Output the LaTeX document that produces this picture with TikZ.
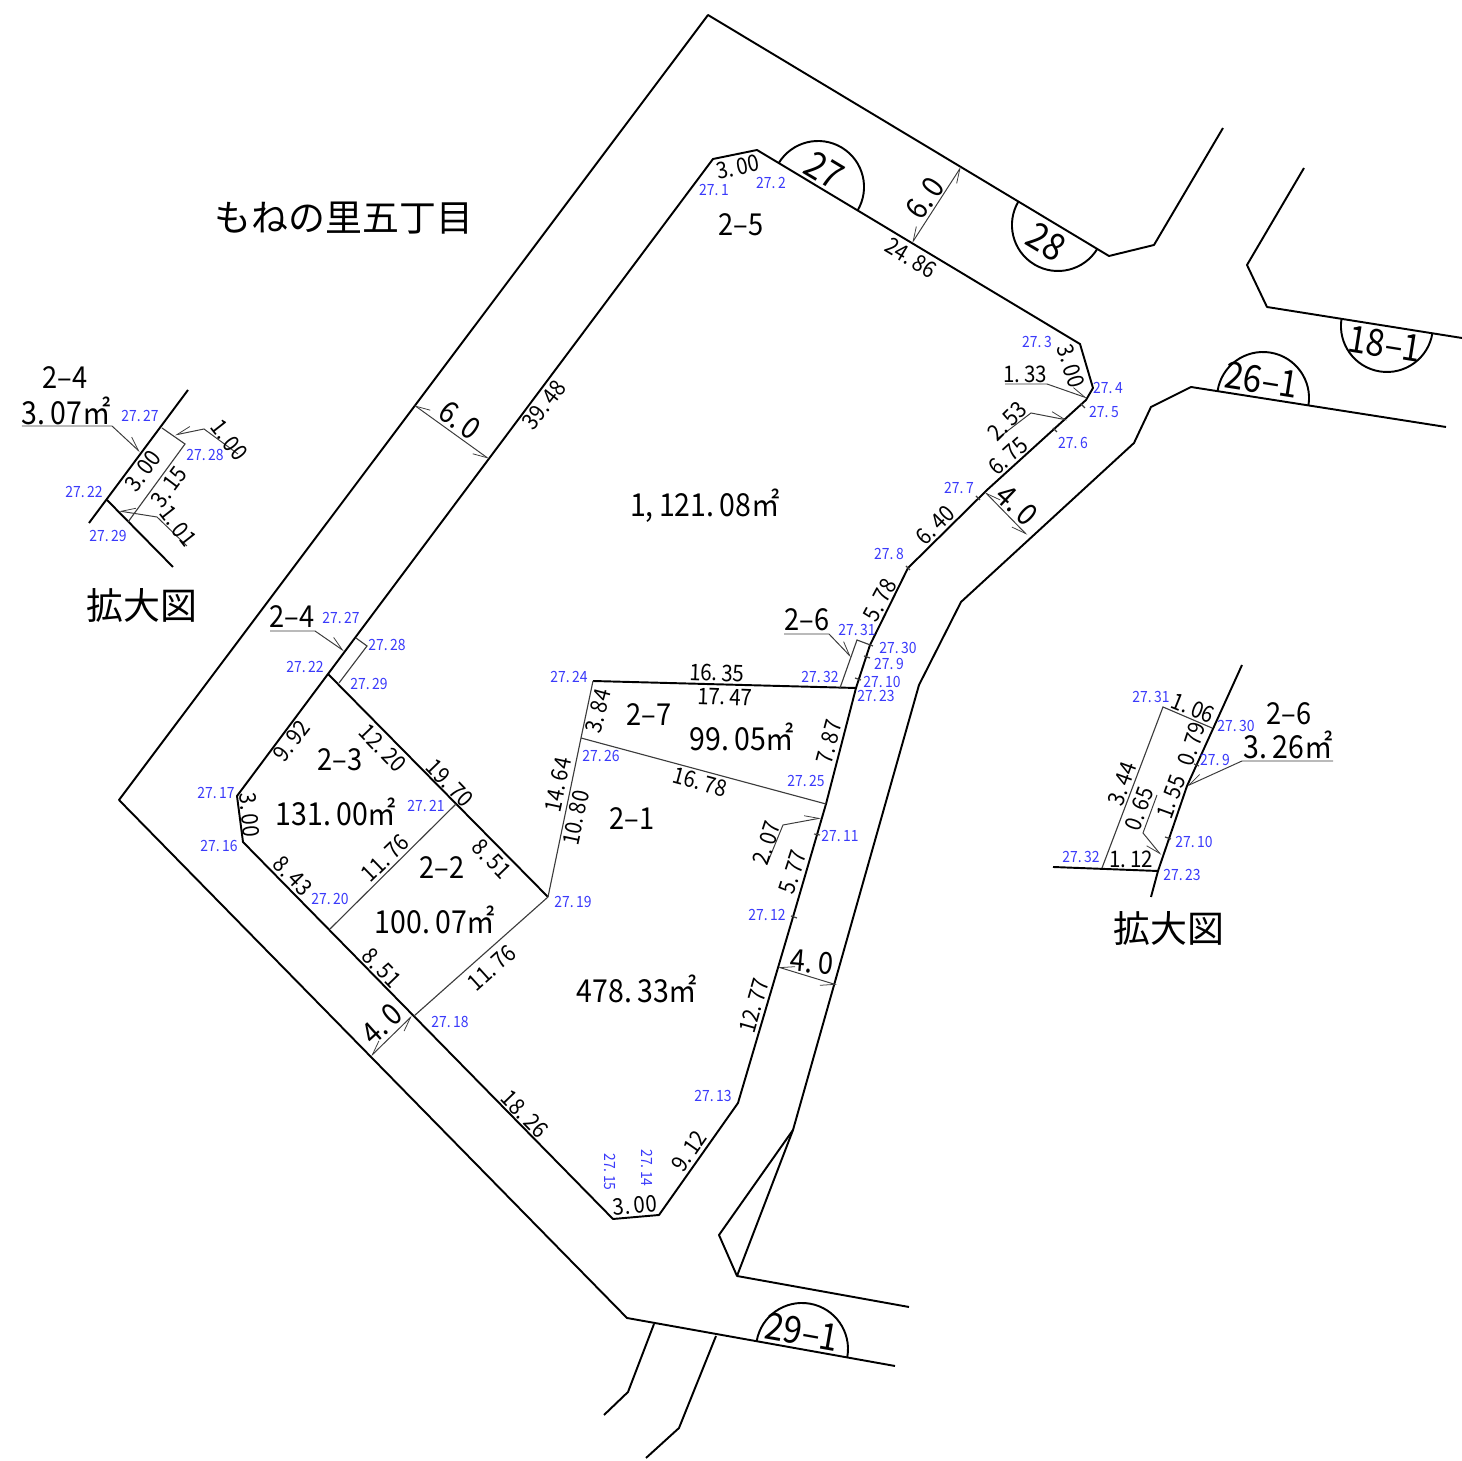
\documentclass[tikz,border=0pt]{standalone}
\usepackage{fontspec}
\setmainfont{Noto Sans CJK JP}[FakeStretch=0.9]
\newfontfamily\jpfont{Noto Sans CJK JP}
\usetikzlibrary{arrows.meta}
\definecolor{pointblue}{RGB}{58,58,250}
\definecolor{thingray}{RGB}{60,60,60}
\begin{document}
\begin{tikzpicture}[x=0.01cm,y=-0.01cm]
    \tikzstyle{every node}+=[inner sep=0pt]
    \tikzstyle{boundary}=[black,line width=0.55pt,line join=round]
    \tikzstyle{lotline}=[thingray,line width=0.32pt]
    \tikzstyle{leader}=[thingray,line width=0.28pt,-{Straight Barb[harpoon,length=4pt,width=3pt,line width=0.22pt]}]
    \tikzstyle{leaderswap}=[thingray,line width=0.28pt,-{Straight Barb[harpoon,swap,length=4pt,width=3pt,line width=0.22pt]}]
    \tikzstyle{offset}=[thingray,line width=0.28pt,{Straight Barb[harpoon,swap,length=4pt,width=3pt,line width=0.22pt]}-{Straight Barb[harpoon,swap,length=4pt,width=3pt,line width=0.22pt]}]
    \tikzstyle{pointlabel}=[text=pointblue,font=\fontsize{4.4}{5}\selectfont]
    \tikzstyle{dimlabel}=[font=\fontsize{6.5}{8}\selectfont]
    \tikzstyle{widthlabel}=[font=\fontsize{8.6}{10}\selectfont]
    \tikzstyle{lotlabel}=[font=\fontsize{8.6}{10}\selectfont]
    \tikzstyle{arealabel}=[font=\fontsize{9}{11}\selectfont]
    \tikzstyle{blocklabel}=[font=\fontsize{10.6}{13}\selectfont]
    \tikzstyle{titlelabel}=[font=\jpfont\fontsize{10.5}{12}\selectfont]
    \useasboundingbox (0,0) rectangle (1462,1461);
    % roads
    \draw [boundary] (1223,128) -- (1154,245) -- (1109,256) -- (708,15) -- (119,800) -- (627,1318) -- (895,1366);
    \draw [boundary] (654,1324) -- (628,1392) -- (604,1415);
    \draw [boundary] (716,1336) -- (679,1428) -- (646,1458);
    \draw [boundary] (909,1307) -- (737,1276) -- (719,1235) -- (793,1130);
    \draw [boundary] (737,1276) -- (793,1130) -- (919,685) -- (961,602) -- (1134,443) -- (1151,407) -- (1191,387) -- (1446,427);
    \draw [boundary] (1304,168) -- (1247,265) -- (1267,307) -- (1462,338);
    % corner arcs
    \draw [boundary] (778.6,163.3) arc (211:391:46);
    \draw [boundary] (1097.4,248.7) arc (31:211:46);
    \draw [boundary] (1432.4,333.2) arc (9:189:46);
    \draw [boundary] (1217.6,390.8) arc (189:369:46);
    \draw [boundary] (756.7,1341) arc (190:370:46);
    % main lot
    \draw [boundary] (713,159) -- (757,150) -- (1080,344) -- (1093,388) -- (1086,400) -- (987,490) -- (908,568) -- (870,645) -- (856,688) -- (826,804) -- (793,917) -- (738,1103) -- (659,1215) -- (613,1219) -- (243,842) -- (237,796) -- (328,674) -- cycle;
    % lot lines
    \draw [boundary] (593,681) -- (856,688);
    \draw [boundary] (328,674) -- (548,897);
    \draw [lotline] (548,897) -- (581,738) -- (593,681);
    \draw [lotline] (581,738) -- (826,804);
    \draw [lotline] (330,929) -- (456,804);
    \draw [lotline] (414,1016) -- (548,897);
    \draw [lotline] (356,638) -- (367,646) -- (339,683);
    \draw [lotline] (840,688) -- (857,640) -- (873,646);
    % boundary ticks
    \draw [lotline] (1053,428) -- (1057,432);
    \draw [lotline] (1081,404) -- (1085,408);
    \draw [lotline] (976,496) -- (980,500);
    \draw [lotline] (906,566) -- (910,570);
    \draw [lotline] (864,656) -- (870,658);
    \draw [lotline] (855,678) -- (861,680);
    \draw [lotline] (814,834) -- (820,835);
    \draw [lotline] (791,916) -- (797,918);
    % road widths
    \draw [offset] (912,243) -- (961,167);
    \draw [offset] (414,405) -- (489,459);
    \draw [offset] (985,492) -- (1027,535);
    \draw [offset] (778,967) -- (837,985);
    \draw [offset] (371,1056) -- (412,1016);
    % leaders
    \draw [leader] (1005,384) -- (1047,384) -- (1087,398);
    \draw [leader] (997,439) -- (1031,413) -- (1067,420);
    \draw [leader] (784,634) -- (829,634) -- (851,657);
    \draw [leader] (270,631) -- (315,631) -- (344,651);
    \draw [leader] (767,864) -- (783,825) -- (821,818);
    % left enlarged view
    \draw [boundary] (188,390) -- (89,523);
    \draw [boundary] (107,500) -- (173,567);
    \draw [lotline] (162,428) -- (185,444) -- (128,522);
    \draw [leader] (22,426) -- (112,426) -- (140,452);
    \draw [leaderswap] (238,454) -- (204,429) -- (175,435);
    \draw [leaderswap] (187,546) -- (157,517) -- (119,511);
    % right enlarged view
    \draw [boundary] (1242,665) -- (1187,786) -- (1158,871) -- (1151,897);
    \draw [boundary] (1053,867) -- (1158,871);
    \draw [lotline] (1102,868) -- (1163,707) -- (1212,728);
    \draw [lotline] (1194,764) -- (1199,766);
    \draw [lotline] (1165,837) -- (1171,839);
    \draw [leaderswap] (1333,761) -- (1242,761) -- (1187,786);
    \draw [leaderswap] (1157,795) -- (1143,833) -- (1161,855);
    % titles
    \node [titlelabel] (town) at (344,218) {もねの里五丁目};
    \node [titlelabel] (viewleft) at (142,605) {拡大図};
    \node [titlelabel] (viewright) at (1169,928) {拡大図};
    % block numbers
    \node [blocklabel,rotate=-31] (block27) at (824,170) {27};
    \node [blocklabel,rotate=-31] (block28) at (1046,242) {28};
    \node [blocklabel,rotate=-9] (block18) at (1385,344) {18–1};
    \node [blocklabel,rotate=-9] (block26) at (1262,380) {26–1};
    \node [blocklabel,rotate=-10] (block29) at (802,1332) {29–1};
    % lot numbers and areas
    \node [lotlabel] (lot25) at (741,225) {2–5};
    \node [arealabel] (area25) at (705,506) {1,\,121.\,08㎡};
    \node [lotlabel] (lot27) at (649,715) {2–7};
    \node [arealabel] (area27) at (742,737) {99.\,05㎡};
    \node [lotlabel] (lot21) at (632,819) {2–1};
    \node [arealabel] (area21) at (637,989) {478.\,33㎡};
    \node [lotlabel] (lot23) at (340,760) {2–3};
    \node [arealabel] (area23) at (336,812) {131.\,00㎡};
    \node [lotlabel] (lot22) at (442,868) {2–2};
    \node [arealabel] (area22) at (435,920) {100.\,07㎡};
    \node [lotlabel] (lot24) at (292,617) {2–4};
    \node [lotlabel] (lot26) at (807,620) {2–6};
    \node [lotlabel] (lot24b) at (65,378) {2–4};
    \node [arealabel] (area24) at (66,411) {3.\,07㎡};
    \node [lotlabel] (lot26b) at (1289,714) {2–6};
    \node [arealabel] (area26) at (1288,745) {3.\,26㎡};
    % road widths
    \node [widthlabel,rotate=55] (w1) at (925,198) {6.\,0};
    \node [widthlabel,rotate=-36] (w2) at (460,420) {6.\,0};
    \node [widthlabel,rotate=-43] (w3) at (1017,505) {4.\,0};
    \node [widthlabel,rotate=-5] (w4) at (812,962) {4.\,0};
    \node [widthlabel,rotate=42] (w5) at (382,1024) {4.\,0};
    % distances
    \node [dimlabel,rotate=12] (d1) at (738,167) {3.\,00};
    \node [dimlabel,rotate=-31] (d2) at (911,258) {24.\,86};
    \node [dimlabel,rotate=-73] (d3) at (1071,366) {3.\,00};
    \node [dimlabel] (d4) at (1025,374) {1.\,33};
    \node [dimlabel,rotate=45] (d5) at (1007,421) {2.\,53};
    \node [dimlabel,rotate=42] (d6) at (1008,456) {6.\,75};
    \node [dimlabel,rotate=45] (d7) at (935,525) {6.\,40};
    \node [dimlabel,rotate=62] (d8) at (880,600) {5.\,78};
    \node [dimlabel,rotate=-2] (d9) at (717,673) {16.\,35};
    \node [dimlabel,rotate=-2] (d10) at (725,697) {17.\,47};
    \node [dimlabel,rotate=75] (d11) at (598,711) {3.\,84};
    \node [dimlabel,rotate=-15] (d12) at (700,782) {16.\,78};
    \node [dimlabel,rotate=75] (d13) at (829,742) {7.\,87};
    \node [dimlabel,rotate=72] (d14) at (767,843) {2.\,07};
    \node [dimlabel,rotate=72] (d15) at (793,872) {5.\,77};
    \node [dimlabel,rotate=74] (d16) at (754,1006) {12.\,77};
    \node [dimlabel,rotate=55] (d17) at (689,1151) {9.\,12};
    \node [dimlabel,rotate=5] (d18) at (635,1205) {3.\,00};
    \node [dimlabel,rotate=-46] (d19) at (525,1114) {18.\,26};
    \node [dimlabel,rotate=42] (d20) at (492,968) {11.\,76};
    \node [dimlabel,rotate=-46] (d21) at (382,968) {8.\,51};
    \node [dimlabel,rotate=-46] (d22) at (293,876) {8.\,43};
    \node [dimlabel,rotate=-85] (d23) at (250,815) {3.\,00};
    \node [dimlabel,rotate=52] (d24) at (292,741) {9.\,92};
    \node [dimlabel,rotate=-46] (d25) at (383,748) {12.\,20};
    \node [dimlabel,rotate=-46] (d26) at (450,783) {19.\,70};
    \node [dimlabel,rotate=44] (d27) at (385,858) {11.\,76};
    \node [dimlabel,rotate=-46] (d28) at (492,859) {8.\,51};
    \node [dimlabel,rotate=78] (d29) at (558,785) {14.\,64};
    \node [dimlabel,rotate=78] (d30) at (576,818) {10.\,80};
    \node [dimlabel,rotate=52] (d31) at (544,405) {39.\,48};
    % left enlarged view distances
    \node [dimlabel,rotate=53] (d32) at (143,471) {3.\,00};
    \node [dimlabel,rotate=53] (d33) at (169,487) {3.\,15};
    \node [dimlabel,rotate=-52] (d34) at (229,440) {1.\,00};
    \node [dimlabel,rotate=-52] (d35) at (178,526) {1.\,01};
    % right enlarged view distances
    \node [dimlabel,rotate=-22] (d36) at (1193,708) {1.\,06};
    \node [dimlabel,rotate=72] (d37) at (1192,744) {0.\,79};
    \node [dimlabel,rotate=70] (d38) at (1122,784) {3.\,44};
    \node [dimlabel,rotate=70] (d39) at (1139,809) {0.\,65};
    \node [dimlabel,rotate=70] (d40) at (1171,797) {1.\,55};
    \node [dimlabel] (d41) at (1131,859) {1.\,12};
    % points
    \node [pointlabel] (p1) at (714,190) {27.\,1};
    \node [pointlabel] (p2) at (771,183) {27.\,2};
    \node [pointlabel] (p3) at (1037,342) {27.\,3};
    \node [pointlabel] (p4) at (1108,388) {27.\,4};
    \node [pointlabel] (p5) at (1104,412) {27.\,5};
    \node [pointlabel] (p6) at (1073,443) {27.\,6};
    \node [pointlabel] (p7) at (959,488) {27.\,7};
    \node [pointlabel] (p8) at (889,554) {27.\,8};
    \node [pointlabel] (p9) at (889,664) {27.\,9};
    \node [pointlabel] (p10) at (882,682) {27.\,10};
    \node [pointlabel] (p11) at (840,836) {27.\,11};
    \node [pointlabel] (p12) at (767,915) {27.\,12};
    \node [pointlabel] (p13) at (713,1096) {27.\,13};
    \node [pointlabel,rotate=-90] (p14) at (647,1168) {27.\,14};
    \node [pointlabel,rotate=-90] (p15) at (610,1172) {27.\,15};
    \node [pointlabel] (p16) at (219,846) {27.\,16};
    \node [pointlabel] (p17) at (216,793) {27.\,17};
    \node [pointlabel] (p18) at (450,1022) {27.\,18};
    \node [pointlabel] (p19) at (573,902) {27.\,19};
    \node [pointlabel] (p20) at (330,899) {27.\,20};
    \node [pointlabel] (p21) at (426,806) {27.\,21};
    \node [pointlabel] (p22) at (305,667) {27.\,22};
    \node [pointlabel] (p23) at (876,696) {27.\,23};
    \node [pointlabel] (p24) at (569,677) {27.\,24};
    \node [pointlabel] (p25) at (806,781) {27.\,25};
    \node [pointlabel] (p26) at (601,756) {27.\,26};
    \node [pointlabel] (p27) at (341,618) {27.\,27};
    \node [pointlabel] (p28) at (387,645) {27.\,28};
    \node [pointlabel] (p29) at (369,684) {27.\,29};
    \node [pointlabel] (p30) at (898,648) {27.\,30};
    \node [pointlabel] (p31) at (857,630) {27.\,31};
    \node [pointlabel] (p32) at (820,677) {27.\,32};
    % left enlarged view points
    \node [pointlabel] (q27) at (140,416) {27.\,27};
    \node [pointlabel] (q28) at (205,455) {27.\,28};
    \node [pointlabel] (q22) at (84,492) {27.\,22};
    \node [pointlabel] (q29) at (108,536) {27.\,29};
    % right enlarged view points
    \node [pointlabel] (r31) at (1151,697) {27.\,31};
    \node [pointlabel] (r30) at (1236,726) {27.\,30};
    \node [pointlabel] (r9) at (1215,760) {27.\,9};
    \node [pointlabel] (r10) at (1194,842) {27.\,10};
    \node [pointlabel] (r32) at (1081,857) {27.\,32};
    \node [pointlabel] (r23) at (1182,875) {27.\,23};
\end{tikzpicture}
\end{document}
